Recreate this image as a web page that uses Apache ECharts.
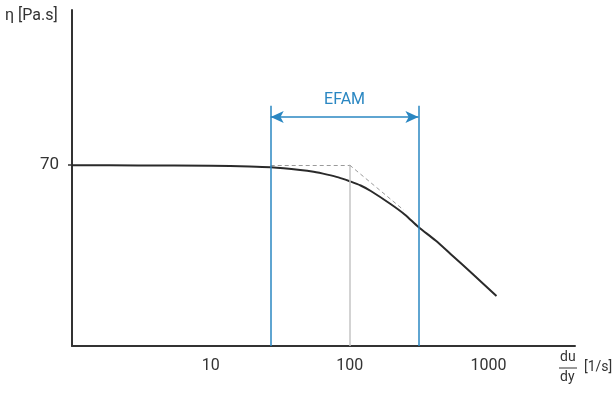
<!DOCTYPE html>
<html>
<head>
<meta charset="utf-8">
<script src="https://cdn.jsdelivr.net/npm/echarts@6/dist/echarts.min.js"></script>
<style>html,body{margin:0;padding:0;background:#fff}#c{width:614px;height:397px}</style>
</head>
<body>
<div id="c"></div>
<script>
// ---- data ----
const shearRate = [1, 3, 10, 19, 27, 44, 55, 69, 83, 100, 120, 142, 197, 249, 313, 416, 533, 780, 1142];
const viscosity = [69.95, 69.85, 69.7, 69.45, 69.14, 68.1, 67.4, 66.31, 65.25, 63.76, 62.1, 59.97, 54.94, 50.9, 46.04, 40.78, 35.6, 27.59, 19.35];
const xTickLabels = [10, 100, 1000];
const yTickLabels = [70];
const efamRange = [27, 313];
const efamTop = 93;
const arrowLevel = 88.6;
const cornerX = 100;
const plateau = 70;
const tangentEnd = [245, 52.6];
const efamLabel = 'EFAM';

const blue = '#2a87c2';
const font = 'Roboto, "Noto Sans", sans-serif';

const chart = echarts.init(document.getElementById('c'));
chart.setOption({
  animation: false,
  grid: { left: 72, right: 39, top: 10, bottom: 51, containLabel: false },
  xAxis: {
    type: 'log', logBase: 10, min: 1, max: 4200,
    axisLine: { lineStyle: { color: '#333', width: 2 } },
    axisTick: { show: false },
    splitLine: { show: false },
    axisLabel: {
      color: '#333', fontFamily: font, fontSize: 16, margin: 12,
      formatter: v => (xTickLabels.indexOf(Math.round(v)) >= 0 ? String(Math.round(v)) : '')
    }
  },
  yAxis: {
    type: 'value', min: 0, max: 130,
    axisLine: { show: true, lineStyle: { color: '#333', width: 2 } },
    axisTick: { show: true, customValues: yTickLabels, length: 4, lineStyle: { color: '#333', width: 1.5 } },
    splitLine: { show: false },
    axisLabel: { customValues: yTickLabels, color: '#333', fontFamily: font, fontSize: 17, margin: 13 }
  },
  graphic: [
    { type: 'text', left: 5, top: 8, style: { text: 'η [Pa.s]', fill: '#333', font: '16px ' + font } },
    { type: 'text', left: 560, top: 350, style: { text: 'du', fill: '#333', font: '14px ' + font } },
    { type: 'line', shape: { x1: 559, y1: 368, x2: 577, y2: 368 }, style: { stroke: '#333', lineWidth: 1 } },
    { type: 'text', left: 560, top: 370, style: { text: 'dy', fill: '#333', font: '14px ' + font } },
    { type: 'text', left: 584, top: 360, style: { text: '[1/s]', fill: '#333', font: '14px ' + font } }
  ],
  series: [
    {
      type: 'line', data: [], z: 1, silent: true,
      markLine: {
        silent: true, animation: false, symbol: ['none', 'none'],
        label: { show: false },
        data: [
          [{ coord: [cornerX, 0], lineStyle: { color: '#c4c4c4', width: 1.5, type: 'solid' } }, { coord: [cornerX, plateau] }],
          [{ coord: [efamRange[0], plateau], lineStyle: { color: '#9a9a9a', width: 1, type: [4, 3] } }, { coord: [cornerX, plateau] }],
          [{ coord: [cornerX, plateau], lineStyle: { color: '#9a9a9a', width: 1, type: [4, 3] } }, { coord: tangentEnd }],
          [{ coord: [efamRange[0], 0], lineStyle: { color: blue, width: 1.5, type: 'solid' } }, { coord: [efamRange[0], efamTop] }],
          [{ coord: [efamRange[1], 0], lineStyle: { color: blue, width: 1.5, type: 'solid' } }, { coord: [efamRange[1], efamTop] }]
        ]
      }
    },
    {
      type: 'line', data: [], z: 3, silent: true,
      markLine: {
        silent: true, animation: false,
        symbol: ['arrow', 'arrow'], symbolSize: [9, 13],
        lineStyle: { color: blue, width: 1.5, type: 'solid' },
        label: { show: true, position: 'middle', formatter: efamLabel, color: blue, fontFamily: font, fontSize: 16, distance: 9 },
        data: [[{ coord: [efamRange[0], arrowLevel] }, { coord: [efamRange[1], arrowLevel] }]]
      }
    },
    {
      type: 'line', z: 2,
      data: shearRate.map((x, i) => [x, viscosity[i]]),
      smooth: 0.3, showSymbol: false,
      lineStyle: { color: '#2a2a2a', width: 2 }
    }
  ]
});
</script>
</body>
</html>
